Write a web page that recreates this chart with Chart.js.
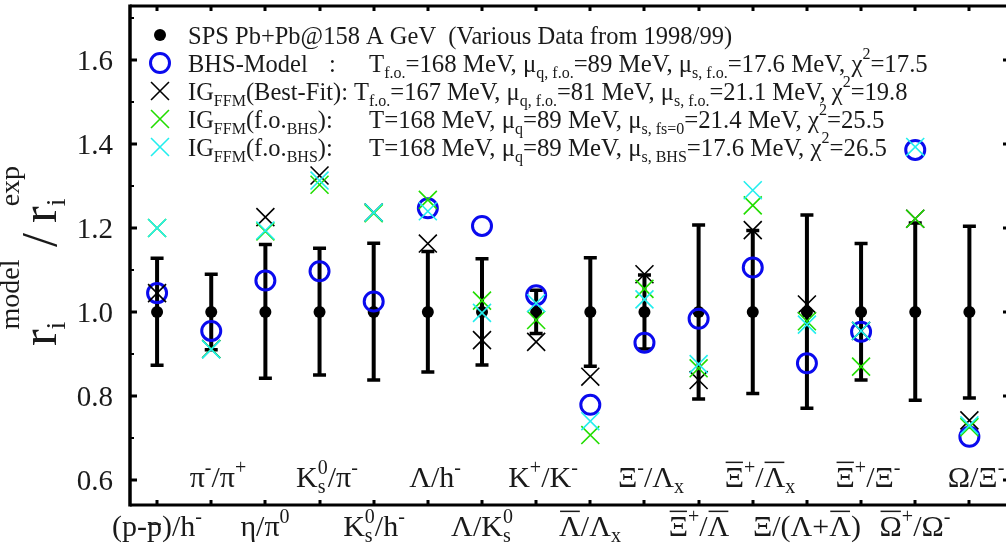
<!DOCTYPE html>
<html>
<head>
<meta charset="UTF-8">
<title>Pb+Pb 158 A GeV particle ratios</title>
<script src="https://cdn.jsdelivr.net/npm/chart.js@4"></script>
<style>
  html, body { margin: 0; padding: 0; background: #fff; overflow: hidden; }
  canvas { display: block; }
</style>
</head>
<body>
<canvas id="ratios" width="1016" height="554"></canvas>
<script>
const FONT = '"Liberation Serif", "DejaVu Serif", serif';
const INK = '#1a1a1a';

// particle ratios along x (markup: _{} sub, ^{} sup, \bar{} overline)
const ratioLabels = [
  '(p-\\bar{p})/h^{-}', 'π^{-}/π^{+}', 'η/π^{0}', 'K^{0}_{s}/π^{-}',
  'K^{0}_{s}/h^{-}', 'Λ/h^{-}', 'Λ/K^{0}_{s}', 'K^{+}/K^{-}',
  '\\bar{Λ}/Λ_{x}', 'Ξ^{-}/Λ_{x}', '\\bar{Ξ}^{+}/\\bar{Λ}', '\\bar{Ξ}^{+}/\\bar{Λ}_{x}',
  'Ξ/(Λ+\\bar{Λ})', '\\bar{Ξ}^{+}/Ξ^{-}', '\\bar{Ω}^{+}/Ω^{-}', 'Ω/Ξ^{-}'
];

// data normalised to itself, with error bar ends
const expRatio = [1.0, 1.0, 1.0, 1.0, 1.0, 1.0, 1.0, 1.0, 1.0, 1.0, 1.0, 1.0, 1.0, 1.0, 1.0, 1.0];
const expHigh = [1.128, 1.090, 1.161, 1.152, 1.164, 1.144, 1.127, 1.052, 1.129, 1.088, 1.207, 1.194, 1.231, 1.163, 1.212, 1.204];
const expLow  = [0.873, 0.910, 0.842, 0.850, 0.838, 0.857, 0.874, 0.949, 0.871, 0.912, 0.793, 0.806, 0.771, 0.838, 0.790, 0.795];

// model / exp
const bhsModel  = [1.045, 0.955, 1.075, 1.097, 1.025, 1.247, 1.205, 1.040, 0.779, 0.927, 0.984, 1.106, 0.878, 0.953, 1.386, 0.703];
const igBestFit = [1.045, 0.912, 1.226, 1.325, 1.237, 1.163, 0.933, 0.929, 0.846, 1.090, 0.838, 1.195, 1.018, 0.955, 1.222, 0.742];
const igFsZero  = [1.200, 0.912, 1.192, 1.303, 1.235, 1.267, 1.027, 0.981, 0.707, 1.055, 0.866, 1.254, 0.978, 0.870, 1.222, 0.726];
const igBhsMuS  = [1.200, 0.911, 1.194, 1.313, 1.237, 1.240, 0.998, 1.021, 0.740, 1.030, 0.876, 1.290, 0.970, 0.955, 1.393, 0.730];

const yTickLabels = ['0.6', '0.8', '1.0', '1.2', '1.4', '1.6'];

const legendNames = [
  'SPS Pb+Pb@158 A GeV  (Various Data from 1998/99)',
  'BHS-Model',
  'IG_{FFM}(Best-Fit): T_{f.o.}=167 MeV, μ_{q, f.o.}=81 MeV, μ_{s, f.o.}=21.1 MeV, χ^{2}=19.8',
  'IG_{FFM}(f.o._{BHS}):',
  'IG_{FFM}(f.o._{BHS}):'
];
const legendParams = [
  '',
  'T_{f.o.}=168 MeV, μ_{q, f.o.}=89 MeV, μ_{s, f.o.}=17.6 MeV, χ^{2}=17.5',
  '',
  'T=168 MeV, μ_{q}=89 MeV, μ_{s, fs=0}=21.4 MeV, χ^{2}=25.5',
  'T=168 MeV, μ_{q}=89 MeV, μ_{s, BHS}=17.6 MeV, χ^{2}=26.5'
];

// --- tiny rich text: sub/sup/overline on a canvas ---
function parseRich(src) {
  const out = [];
  let i = 0, buf = '';
  const flush = () => { if (buf) { out.push({ t: buf, k: 'n' }); buf = ''; } };
  const group = () => {
    if (src[i] !== '{') return src[i++];
    let depth = 1, j = i + 1;
    while (depth) { if (src[j] === '{') depth++; else if (src[j] === '}') depth--; j++; }
    const g = src.slice(i + 1, j - 1);
    i = j;
    return g;
  };
  while (i < src.length) {
    const c = src[i];
    if (c === '_' || c === '^') { flush(); i++; out.push({ t: group(), k: c === '_' ? 'sub' : 'sup' }); }
    else if (src.startsWith('\\bar', i)) { flush(); i += 4; out.push({ t: group(), k: 'n', bar: true }); }
    else { buf += c; i++; }
  }
  flush();
  return out;
}

function layoutRich(ctx, src, size, o) {
  const small = Math.round(size * (o.scale || 0.68));
  const items = [];
  let x = 0, prev = null;
  for (const p of parseRich(src)) {
    ctx.font = (p.k === 'n' ? size : small) + 'px ' + FONT;
    const m = ctx.measureText(p.t);
    let x0 = x;
    // sub + sup on the same base are stacked
    if (p.k !== 'n' && prev && prev.k !== 'n' && prev.k !== p.k) x0 = prev.x;
    const dy = p.k === 'sup' ? -(o.sup || 0.42) * size : p.k === 'sub' ? (o.sub || 0.2) * size : 0;
    const it = { t: p.t, k: p.k, bar: p.bar, x: x0, dy, font: ctx.font, w: m.width, asc: m.actualBoundingBoxAscent };
    items.push(it);
    x = Math.max(x, x0 + m.width);
    prev = it;
  }
  return { items, width: x };
}

function drawRich(ctx, src, x, y, size, o = {}) {
  const lay = layoutRich(ctx, src, size, o);
  const left = o.align === 'center' ? x - lay.width / 2 : o.align === 'right' ? x - lay.width : x;
  ctx.textAlign = 'left';
  ctx.textBaseline = 'alphabetic';
  for (const it of lay.items) {
    ctx.font = it.font;
    ctx.fillText(it.t, left + it.x, y + it.dy);
    if (it.bar) {
      const by = y + it.dy - it.asc - size * 0.18;
      ctx.fillRect(left + it.x + 1, by - 1, it.w - 2, Math.max(1.3, size * 0.05));
    }
  }
  return lay.width;
}

const points = arr => arr.map((v, i) => ({ x: i, y: v }));

// axes box, ticks, error bars, labels and the key
const framePlugin = {
  id: 'frame',
  beforeDatasetsDraw(chart) {
    const { ctx, scales: { x, y } } = chart;
    ctx.save();
    ctx.strokeStyle = '#000';
    expHigh.forEach((hi, i) => {
      const px = x.getPixelForValue(i);
      const top = y.getPixelForValue(hi), bot = y.getPixelForValue(expLow[i]);
      ctx.lineWidth = 4;
      ctx.beginPath(); ctx.moveTo(px, top); ctx.lineTo(px, bot); ctx.stroke();
      ctx.lineWidth = 3.5;
      ctx.beginPath();
      ctx.moveTo(px - 6.5, top); ctx.lineTo(px + 6.5, top);
      ctx.moveTo(px - 6.5, bot); ctx.lineTo(px + 6.5, bot);
      ctx.stroke();
    });
    ctx.restore();
  },
  afterDraw(chart) {
    const { ctx, chartArea: a, scales: { x, y } } = chart;
    ctx.save();
    ctx.strokeStyle = '#000';
    ctx.fillStyle = INK;

    // box
    ctx.lineWidth = 3;
    ctx.beginPath();
    ctx.moveTo(a.left, a.top); ctx.lineTo(a.right, a.top);
    ctx.moveTo(a.left, a.bottom); ctx.lineTo(a.right, a.bottom);
    ctx.moveTo(a.right, a.top); ctx.lineTo(a.right, a.bottom);
    ctx.stroke();
    ctx.lineWidth = 3.5;
    ctx.beginPath(); ctx.moveTo(a.left, a.top - 1.5); ctx.lineTo(a.left, a.bottom + 1.5); ctx.stroke();

    // y ticks, inward on both sides
    for (let v = 0.6; v < y.max; v += 0.1) {
      const py = Math.round(y.getPixelForValue(v));
      const major = Math.round(v * 10) % 2 === 0;
      const len = major ? 7 : 4;
      ctx.lineWidth = major ? 3 : 2;
      ctx.beginPath();
      ctx.moveTo(a.left, py); ctx.lineTo(a.left + len, py);
      ctx.moveTo(a.right, py); ctx.lineTo(a.right - len, py);
      ctx.stroke();
    }
    yTickLabels.forEach(t => {
      ctx.font = '29px ' + FONT;
      ctx.textAlign = 'right';
      ctx.textBaseline = 'middle';
      ctx.fillText(t, 113, y.getPixelForValue(parseFloat(t)) + 2);
    });

    // x ticks, inward top and bottom
    ctx.lineWidth = 3;
    ratioLabels.forEach((lab, i) => {
      const px = Math.round(x.getPixelForValue(i));
      ctx.beginPath();
      ctx.moveTo(px, a.bottom); ctx.lineTo(px, a.bottom - 5);
      ctx.moveTo(px, a.top); ctx.lineTo(px, a.top + 5);
      ctx.stroke();
      // alternate rows: even below the axis, odd inside the frame
      if (i % 2 === 0) drawRich(ctx, lab, px, 536, 30, { align: 'center' });
      else drawRich(ctx, lab, px + 7, 487, 30, { align: 'center' });
    });

    // y title, rotated
    ctx.save();
    ctx.translate(56, 256);
    ctx.rotate(-Math.PI / 2);
    drawRich(ctx, 'r_{i}^{model} /\u2009r_{i}^{exp}', 0, 0, 50, { align: 'center', scale: 0.56, sup: 0.74, sub: 0.17 });
    ctx.restore();

    // key
    const rowY = [35, 63, 91, 119, 147];
    chart.data.datasets.forEach((ds, i) => {
      ctx.fillStyle = ds.pointBackgroundColor;
      ctx.strokeStyle = ds.pointBorderColor;
      ctx.lineWidth = ds.pointBorderWidth;
      Chart.helpers.drawPoint(ctx, { pointStyle: ds.pointStyle, radius: ds.pointRadius, borderWidth: ds.pointBorderWidth, rotation: 0 }, 160, rowY[i]);
      ctx.fillStyle = INK;
      const base = rowY[i] + 8.5;
      drawRich(ctx, legendNames[i], 188, base, 24.5, { scale: 0.64, sub: 0.28, sup: 0.5 });
      if (legendParams[i]) {
        if (!legendNames[i].endsWith(':')) drawRich(ctx, ':', 329, base, 24.5);
        drawRich(ctx, legendParams[i], 369, base, 24.8, { scale: 0.64, sub: 0.28, sup: 0.5 });
      }
    });
    ctx.restore();
  }
};

new Chart(document.getElementById('ratios'), {
  type: 'scatter',
  data: {
    datasets: [
      { label: 'SPS Pb+Pb', data: points(expRatio), pointStyle: 'circle', pointRadius: 6,
        pointBackgroundColor: '#000', pointBorderColor: '#000', pointBorderWidth: 0, order: 5 },
      { label: 'BHS-Model', data: points(bhsModel), pointStyle: 'circle', pointRadius: 9.5,
        pointBackgroundColor: 'rgba(0,0,0,0)', pointBorderColor: '#0a0aee', pointBorderWidth: 3, order: 4 },
      { label: 'IG FFM best fit', data: points(igBestFit), pointStyle: 'crossRot', pointRadius: 12.7,
        pointBackgroundColor: '#000', pointBorderColor: '#000', pointBorderWidth: 1.6, order: 3 },
      { label: 'IG FFM mu_s fs=0', data: points(igFsZero), pointStyle: 'crossRot', pointRadius: 12.7,
        pointBackgroundColor: '#22dd00', pointBorderColor: '#22dd00', pointBorderWidth: 1.6, order: 2 },
      { label: 'IG FFM mu_s BHS', data: points(igBhsMuS), pointStyle: 'crossRot', pointRadius: 12.7,
        pointBackgroundColor: '#22eeee', pointBorderColor: '#22eeee', pointBorderWidth: 1.6, order: 1 }
    ]
  },
  options: {
    responsive: false,
    animation: false,
    events: [],
    layout: { autoPadding: false, padding: { left: 130, top: 6, right: 6, bottom: 49 } },
    scales: {
      x: { type: 'linear', min: -0.5, max: 15.75, display: false },
      y: { type: 'linear', min: 0.5405, max: 1.7286, display: false }
    },
    plugins: { legend: { display: false }, tooltip: { enabled: false } }
  },
  plugins: [framePlugin]
});
</script>
</body>
</html>
